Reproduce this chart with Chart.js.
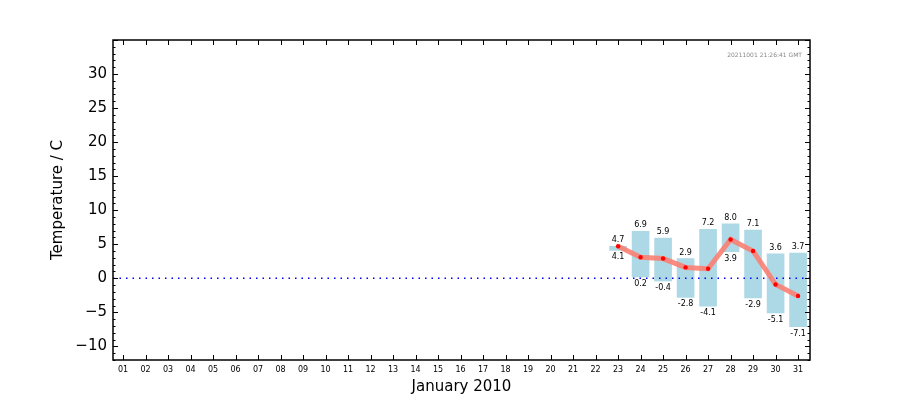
<!DOCTYPE html>
<html>
<head>
<meta charset="utf-8">
<script src="https://cdn.jsdelivr.net/npm/chart.js@4/dist/chart.umd.min.js"></script>
<style>
  html, body { margin: 0; padding: 0; background: #fff; }
  #wrap { width: 900px; height: 400px; }
</style>
</head>
<body>
<div id="wrap"><canvas id="mainChart" width="900" height="400"></canvas></div>
<script>
const days = [23, 24, 25, 26, 27, 28, 29, 30, 31];
const maxTemp = [4.7, 6.9, 5.9, 2.9, 7.2, 8.0, 7.1, 3.6, 3.7];
const minTemp = [4.1, 0.2, -0.4, -2.8, -4.1, 3.9, -2.9, -5.1, -7.1];
const meanTemp = [4.7, 3.1, 2.9, 1.6, 1.4, 5.7, 4.0, -0.9, -2.6];
const xTicks = Array.from({ length: 31 }, (_, i) => i + 1);
const yTicks = [-10, -5, 0, 5, 10, 15, 20, 25, 30];
const stamp = '20211001 21:26:41 GMT';

const X_MIN = 0.55, X_MAX = 31.53, Y_MIN = -12, Y_MAX = 35;

function fmtY(v) {
  return v < 0 ? '\u2212' + Math.abs(v) : String(v);
}

// frame, inward ticks, value labels and timestamp
const decorPlugin = {
  id: 'decor',
  afterDatasetsDraw(chart) {
    const ctx = chart.ctx;
    const a = chart.chartArea;
    const xs = chart.scales.x, ys = chart.scales.y;
    ctx.save();

    // value labels
    ctx.font = '8px "DejaVu Sans"';
    ctx.fillStyle = '#000';
    ctx.textAlign = 'center';
    days.forEach((d, i) => {
      const px = xs.getPixelForValue(d);
      ctx.textBaseline = 'bottom';
      ctx.fillText(maxTemp[i].toFixed(1), px, ys.getPixelForValue(maxTemp[i]) - 2);
      ctx.textBaseline = 'top';
      ctx.fillText(minTemp[i].toFixed(1), px, ys.getPixelForValue(minTemp[i]) + 3);
    });

    // frame
    ctx.strokeStyle = '#000';
    ctx.lineWidth = 1.5;
    ctx.strokeRect(Math.round(a.left), Math.round(a.top),
      Math.round(a.right - a.left), Math.round(a.bottom - a.top));

    ctx.lineWidth = 1;
    ctx.beginPath();
    // x ticks bottom + top
    xTicks.forEach(d => {
      const px = Math.round(xs.getPixelForValue(d)) + 0.5;
      ctx.moveTo(px, a.bottom); ctx.lineTo(px, a.bottom - 5);
      ctx.moveTo(px, a.top); ctx.lineTo(px, a.top + 5);
    });
    // y ticks left + right, major every 5, minor every 1
    for (let v = Y_MIN; v <= Y_MAX; v++) {
      const py = Math.round(ys.getPixelForValue(v)) + 0.5;
      const len = v % 5 === 0 ? 5 : 2.5;
      ctx.moveTo(a.left, py); ctx.lineTo(a.left + len, py);
      ctx.moveTo(a.right, py); ctx.lineTo(a.right - len, py);
    }
    ctx.stroke();

    // timestamp
    ctx.font = '6px "DejaVu Sans"';
    ctx.fillStyle = '#888';
    ctx.textAlign = 'right';
    ctx.textBaseline = 'middle';
    ctx.fillText(stamp, a.right - 8, a.top + 15);
    ctx.restore();
  }
};

const ctx = document.getElementById('mainChart').getContext('2d');
new Chart(ctx, {
  data: {
    datasets: [
      {
        type: 'bar',
        data: days.map((d, i) => ({ x: d, y: [minTemp[i], maxTemp[i]] })),
        backgroundColor: '#add8e6',
        borderWidth: 0,
        barThickness: 17,
        order: 3
      },
      {
        type: 'line',
        data: [{ x: X_MIN, y: 0 }, { x: X_MAX, y: 0 }],
        borderColor: '#0000ff',
        borderWidth: 1.5,
        borderDash: [1.5, 5],
        pointRadius: 0,
        order: 2
      },
      {
        type: 'line',
        data: days.map((d, i) => ({ x: d, y: meanTemp[i] })),
        borderColor: 'rgba(250,128,114,0.9)',
        borderWidth: 5,
        tension: 0,
        pointRadius: 2.2,
        pointBorderWidth: 0,
        pointBackgroundColor: '#ff0000',
        order: 1
      }
    ]
  },
  options: {
    responsive: false,
    animation: false,
    layout: { padding: { left: 40, right: 90, top: 40, bottom: 0 } },
    plugins: {
      legend: { display: false },
      tooltip: { enabled: false }
    },
    scales: {
      x: {
        type: 'linear',
        offset: false,
        min: X_MIN,
        max: X_MAX,
        grid: { display: false, drawTicks: false, offset: false },
        border: { display: false },
        afterBuildTicks: s => { s.ticks = xTicks.map(v => ({ value: v })); },
        afterFit: s => { s.height = 40; },
        ticks: {
          autoSkip: false,
          maxRotation: 0,
          padding: 5,
          color: '#000',
          font: { family: 'DejaVu Sans', size: 8 },
          callback: v => String(v).padStart(2, '0')
        },
        title: {
          display: true,
          text: 'January 2010',
          color: '#000',
          font: { family: 'DejaVu Sans', size: 15 },
          padding: { top: 0, bottom: 4 }
        }
      },
      y: {
        type: 'linear',
        min: Y_MIN,
        max: Y_MAX,
        grid: { display: false, drawTicks: false },
        border: { display: false },
        afterBuildTicks: s => { s.ticks = yTicks.map(v => ({ value: v })); },
        afterFit: s => { s.width = 73; },
        ticks: {
          padding: 6,
          color: '#000',
          font: { family: 'DejaVu Sans', size: 15 },
          callback: v => fmtY(v)
        },
        title: {
          display: true,
          text: 'Temperature / C',
          color: '#000',
          font: { family: 'DejaVu Sans', size: 15 },
          padding: { top: 9, bottom: 0 }
        }
      }
    }
  },
  plugins: [decorPlugin]
});
</script>
</body>
</html>
